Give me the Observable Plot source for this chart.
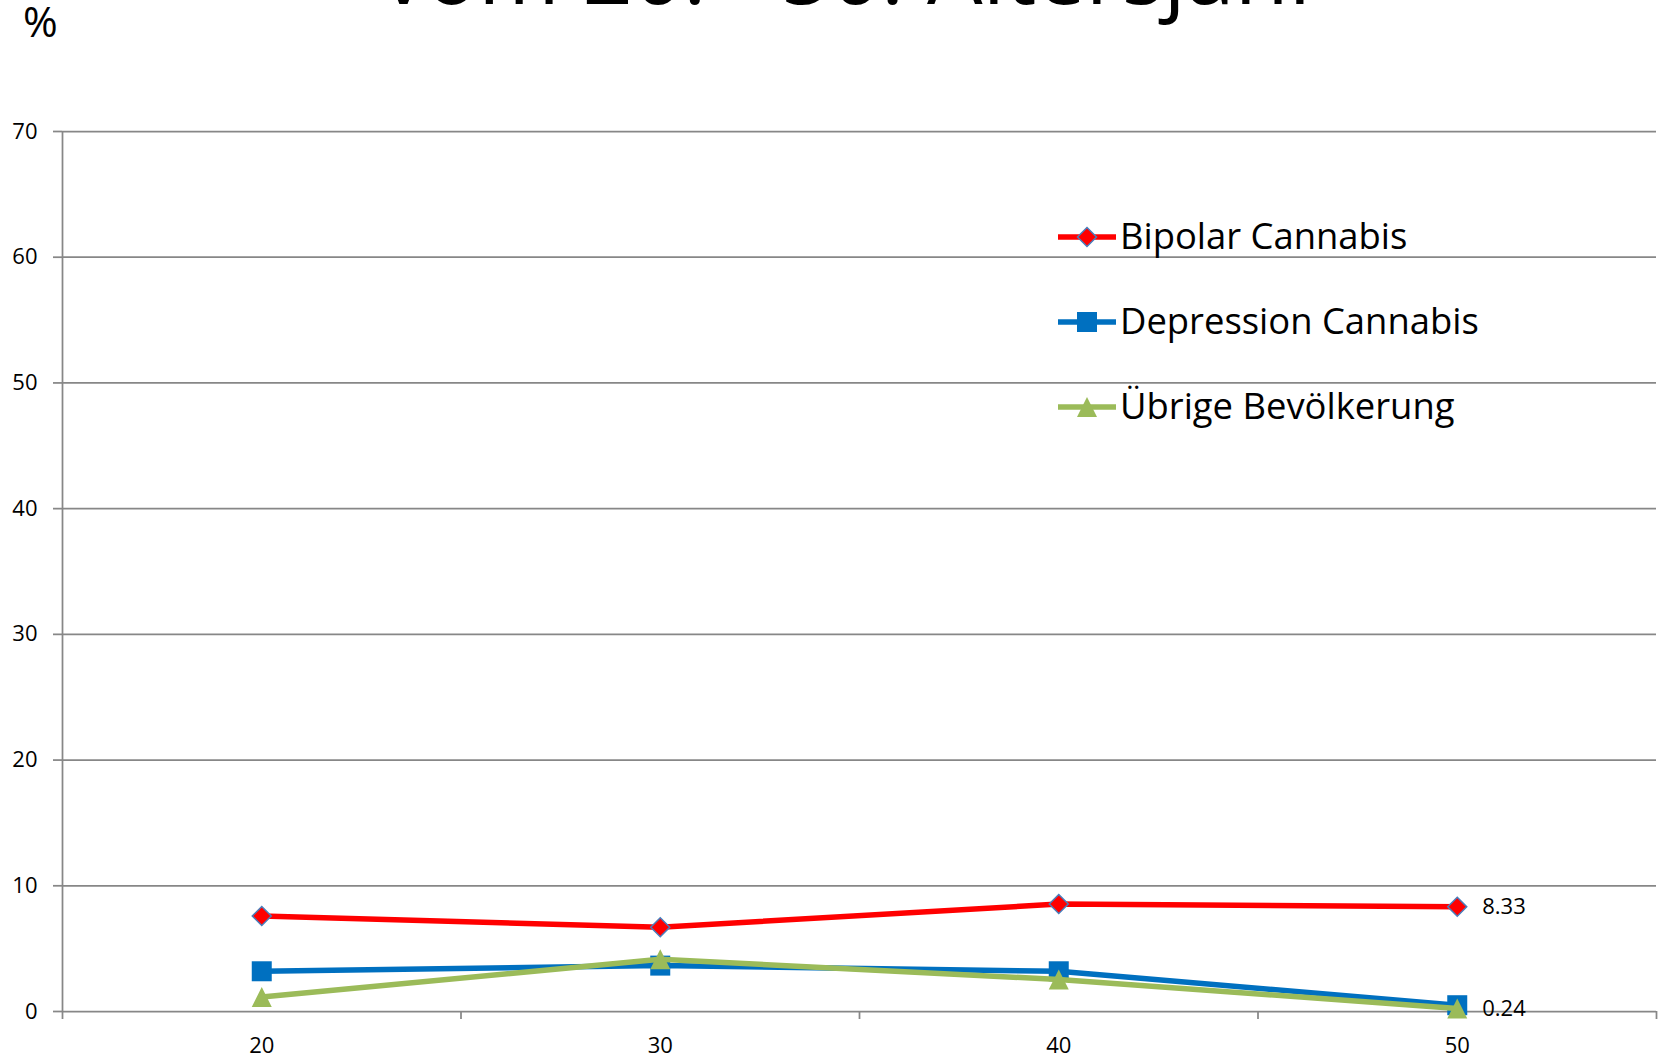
<!DOCTYPE html>
<html>
<head>
<meta charset="utf-8">
<script src="https://cdn.jsdelivr.net/npm/d3@7"></script>
<script src="https://cdn.jsdelivr.net/npm/@observablehq/plot@0.6"></script>
<style>
  html, body { margin: 0; padding: 0; background: #fff; }
  #wrap { position: relative; width: 1661px; height: 1062px; overflow: hidden; background: #fff; font-family: "Open Sans", sans-serif; }
  #title { position: absolute; top: -74px; left: 853px; transform: translateX(-50%); font-size: 88px; line-height: 1; white-space: nowrap; color: #000; }
  #title .dash { position: relative; top: -10px; }
  #unit { position: absolute; top: 0px; left: 23px; font-size: 42px; line-height: 1; color: #000; }
  .leg { position: absolute; height: 24px; }
  .legtext { position: absolute; font-size: 36.4px; line-height: 1; white-space: nowrap; color: #000; }
</style>
</head>
<body>
<div id="wrap">
  <div id="title">vom 20. <span class="dash">-</span> 50. Altersjahr</div>
  <div id="unit">%</div>
</div>
<script>
// ---- data ----
const ages = [20, 30, 40, 50];
const seriesNames = ["Bipolar Cannabis", "Depression Cannabis", "Übrige Bevölkerung"];
const bipolarCannabis = [7.6, 6.7, 8.55, 8.33];
const depressionCannabis = [3.2, 3.65, 3.2, 0.5];
const uebrigeBevoelkerung = [1.15, 4.15, 2.55, 0.24];
const yTicks = [0, 10, 20, 30, 40, 50, 60, 70];
const xBoundaryTicks = [15, 25, 35, 45, 55];
const labeledSeries = ["Bipolar Cannabis", "Übrige Bevölkerung"];

// ---- symbols ----
const rOf = size => Math.sqrt(size / Math.PI);
const diamond = { draw(ctx, size) { const r = rOf(size); ctx.moveTo(0, -r); ctx.lineTo(r, 0); ctx.lineTo(0, r); ctx.lineTo(-r, 0); ctx.closePath(); } };
const square = { draw(ctx, size) { const r = rOf(size); ctx.moveTo(-r, -r); ctx.lineTo(r, -r); ctx.lineTo(r, r); ctx.lineTo(-r, r); ctx.closePath(); } };
const triangle = { draw(ctx, size) { const r = rOf(size); ctx.moveTo(0, -r); ctx.lineTo(r, r); ctx.lineTo(-r, r); ctx.closePath(); } };

const styles = [
  { name: seriesNames[0], values: bipolarCannabis, color: "#ff0000", symbol: diamond, r: 9.5, mstroke: "#4a7ebb", mstrokeWidth: 1.5 },
  { name: seriesNames[1], values: depressionCannabis, color: "#0070c0", symbol: square, r: 10, mstroke: "#0070c0", mstrokeWidth: 0 },
  { name: seriesNames[2], values: uebrigeBevoelkerung, color: "#9bbb59", symbol: triangle, r: 10, mstroke: "#9bbb59", mstrokeWidth: 0 }
];

const gridColor = "#878787";

const seriesMarks = styles.flatMap(s => {
  const data = ages.map((a, i) => ({ age: a, value: s.values[i] }));
  return [
    Plot.line(data, { x: "age", y: "value", stroke: s.color, strokeWidth: 5.5, strokeLinejoin: "round", strokeLinecap: "round" }),
    Plot.dot(data, { x: "age", y: "value", symbol: s.symbol, r: s.r, fill: s.color, stroke: s.mstroke, strokeWidth: s.mstrokeWidth })
  ];
});

const labelData = styles.filter(s => labeledSeries.includes(s.name)).map(s => ({ age: ages[ages.length - 1], value: s.values[s.values.length - 1] }));

const chart = Plot.plot({
  width: 1661,
  height: 1062,
  marginLeft: 62,
  marginRight: 5,
  marginTop: 131,
  marginBottom: 51,
  x: { domain: [15, 55], axis: null },
  y: { domain: [0, 70], axis: null },
  style: { fontFamily: "Open Sans", fontSize: "22px", color: "#000", background: "transparent", overflow: "visible" },
  marks: [
    Plot.ruleY(yTicks, { stroke: gridColor, strokeWidth: 1.75 }),
    Plot.ruleX([15], { stroke: gridColor, strokeWidth: 1.75 }),
    Plot.axisY({ ticks: yTicks, tickSize: 9, tickPadding: 16, stroke: gridColor, strokeWidth: 1.75, fill: "#000", fontSize: 22, label: null }),
    Plot.axisX({ ticks: xBoundaryTicks, tickSize: 8, text: null, stroke: gridColor, strokeWidth: 1.75, label: null }),
    Plot.axisX({ ticks: ages, tickSize: 0, tickPadding: 26, fill: "#000", fontSize: 22, label: null }),
    ...seriesMarks,
    Plot.text(labelData, { x: "age", y: "value", text: d => d.value.toFixed(2), dx: 25, textAnchor: "start", fontSize: 22, fill: "#000" })
  ]
});
chart.style.position = "absolute";
chart.style.left = "0px";
chart.style.top = "0px";
const wrap = document.getElementById("wrap");
wrap.insertBefore(chart, wrap.firstChild);

// ---- legend (overlay) ----
const legendX = 1058, legendTop = 236.7, legendStep = 85, legendTextX = 1120, legendFont = 36.4;
styles.forEach((s, i) => {
  const cy = legendTop + i * legendStep;
  const svg = d3.create("svg").attr("class", "leg").attr("width", 58).attr("height", 24)
    .style("left", legendX + "px").style("top", (cy - 12) + "px");
  svg.append("line").attr("x1", 1).attr("x2", 57).attr("y1", 12).attr("y2", 12)
    .attr("stroke", s.color).attr("stroke-width", 5.5).attr("stroke-linecap", "round");
  svg.append("path").attr("d", d3.symbol(s.symbol, s.r * s.r * Math.PI)())
    .attr("transform", "translate(29,12)")
    .attr("fill", s.color).attr("stroke", s.mstroke).attr("stroke-width", s.mstrokeWidth);
  wrap.appendChild(svg.node());
  const t = document.createElement("div");
  t.className = "legtext";
  t.textContent = s.name;
  t.style.left = legendTextX + "px";
  t.style.top = (cy - 0.531 * legendFont) + "px";
  wrap.appendChild(t);
});
</script>
</body>
</html>
